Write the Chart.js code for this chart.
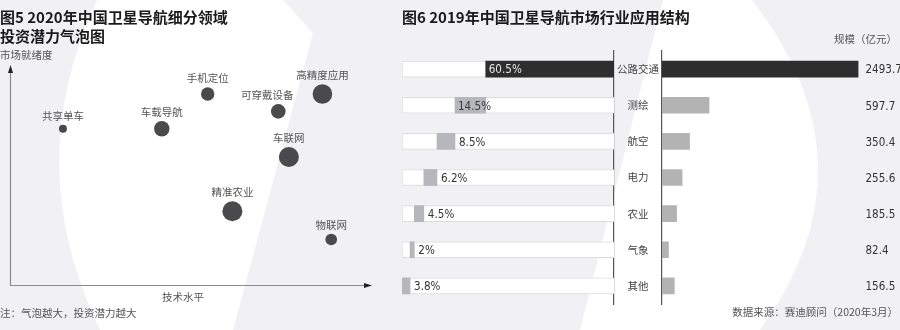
<!DOCTYPE html>
<html lang="zh-CN">
<head>
<meta charset="utf-8">
<title>卫星导航细分领域与行业应用</title>
<script src="https://cdn.jsdelivr.net/npm/chart.js@4.4.1/dist/chart.umd.min.js"></script>
<style>
  body { margin: 0; width: 900px; height: 330px; overflow: hidden; position: relative; background: #f1f1f3; font-family: 'Noto Sans CJK SC', sans-serif; }
  canvas { position: absolute; top: 0; }
  .txt { position: absolute; white-space: nowrap; color: #555; font-size: 10.5px; line-height: 14px; }
  .title { position: absolute; white-space: nowrap; color: #1a1a1a; font-size: 15px; font-weight: bold; line-height: 20px; }
</style>
</head>
<body>
<canvas id="backdrop" width="900" height="330" style="left:0"></canvas>
<canvas id="bubble" width="380" height="330" style="left:0"></canvas>
<canvas id="share" width="220" height="330" style="left:400px"></canvas>
<canvas id="scale" width="286" height="330" style="left:614px"></canvas>

<div class="title" style="left:0;top:7px">图5 2020年中国卫星导航细分领域</div>
<div class="title" style="left:0;top:26px">投资潜力气泡图</div>
<div class="txt" style="left:0;top:48px">市场就绪度</div>
<div class="txt" style="left:162px;top:290px">技术水平</div>
<div class="txt" style="left:0;top:306px">注：气泡越大，投资潜力越大</div>

<div class="title" style="left:402px;top:7px">图6 2019年中国卫星导航市场行业应用结构</div>
<div class="txt" style="right:3px;top:32px">规模（亿元）</div>
<div class="txt" style="right:2px;top:305px">数据来源：赛迪顾问（2020年3月）</div>

<script>
// 图5 气泡图
var fields = ['共享单车', '车载导航', '手机定位', '可穿戴设备', '高精度应用', '车联网', '精准农业', '物联网'];
var techLevel = [1.5, 4.3, 5.6, 7.6, 8.85, 7.9, 6.3, 9.1];
var readiness = [7.2, 7.2, 8.8, 8.0, 8.8, 5.9, 3.4, 2.1];
var potential = [4, 7.7, 6.7, 7.3, 9.8, 10, 10, 5.8];

// 图6 行业应用结构
var sectors = ['公路交通', '测绘', '航空', '电力', '农业', '气象', '其他'];
var sharePct = [60.5, 14.5, 8.5, 6.2, 4.5, 2, 3.8];
var marketSize = [2493.7, 597.7, 350.4, 255.6, 185.5, 82.4, 156.5];

Chart.defaults.font.family = "'Noto Sans CJK SC', sans-serif";

// 数字用窄体：横向压缩绘制
function drawNum(ctx, txt, x, y) {
  ctx.save();
  ctx.font = "13px 'DejaVu Sans'";
  ctx.textBaseline = 'middle';
  ctx.textAlign = 'left';
  ctx.translate(x, y);
  ctx.scale(0.8, 1);
  ctx.fillText(txt, 0, 0);
  ctx.restore();
}

// 白色弧形底纹
function drawBackdrop() {
  var g = document.getElementById('backdrop').getContext('2d');
  g.fillStyle = '#f1f1f3';
  g.fillRect(0, 0, 900, 330);
  g.fillStyle = '#ffffff';
  g.beginPath();
  g.moveTo(97, 0);
  g.lineTo(283, 0);
  g.lineTo(313, 33);
  g.lineTo(233, 330);
  g.lineTo(100, 330);
  g.quadraticCurveTo(20, 165, 97, 0);
  g.fill();
  g.beginPath();
  g.moveTo(663, 0);
  g.lineTo(752, 0);
  g.quadraticCurveTo(880, 165, 760, 330);
  g.lineTo(580, 330);
  g.closePath();
  g.fill();
}
drawBackdrop();

// 坐标轴和箭头
var axesArrows = {
  id: 'axesArrows',
  afterDraw: function(chart) {
    var ctx = chart.ctx, a = chart.chartArea;
    var x0 = a.left + 0.5, y0 = a.bottom + 0.5;
    ctx.save();
    ctx.strokeStyle = '#8c8c8c';
    ctx.lineWidth = 1.2;
    ctx.beginPath();
    ctx.moveTo(x0, a.top);
    ctx.lineTo(x0, y0);
    ctx.lineTo(a.right + 4, y0);
    ctx.stroke();
    ctx.fillStyle = '#222';
    ctx.beginPath();
    ctx.moveTo(x0, a.top - 3);
    ctx.lineTo(x0 - 2.5, a.top + 5);
    ctx.lineTo(x0 + 2.5, a.top + 5);
    ctx.fill();
    ctx.beginPath();
    ctx.moveTo(a.right + 9, y0);
    ctx.lineTo(a.right + 1, y0 - 2.5);
    ctx.lineTo(a.right + 1, y0 + 2.5);
    ctx.fill();
    ctx.restore();
  }
};

// 气泡上方的名称
var bubbleNames = {
  id: 'bubbleNames',
  afterDatasetsDraw: function(chart) {
    var ctx = chart.ctx;
    var shift = { 3: -11 };
    ctx.save();
    ctx.font = "10.5px 'Noto Sans CJK SC'";
    ctx.fillStyle = '#555';
    ctx.textAlign = 'center';
    ctx.textBaseline = 'middle';
    chart.getDatasetMeta(0).data.forEach(function(pt, i) {
      ctx.fillText(fields[i], pt.x + (shift[i] || 0), pt.y - pt.options.radius - 9);
    });
    ctx.restore();
  }
};

new Chart(document.getElementById('bubble'), {
  type: 'bubble',
  data: {
    datasets: [{
      data: fields.map(function(f, i) {
        return { x: techLevel[i], y: readiness[i], r: potential[i] };
      }),
      backgroundColor: '#4a4a4d',
      borderWidth: 0
    }]
  },
  options: {
    responsive: false,
    animation: false,
    layout: { padding: { left: 3, right: 17, top: 68, bottom: 45 } },
    scales: {
      x: { display: false, min: 0, max: 10 },
      y: { display: false, min: 0, max: 10 }
    },
    plugins: { legend: { display: false }, tooltip: { enabled: false } }
  },
  plugins: [axesArrows, bubbleNames]
});

// 占比：逐段累加的浮动条
var cumStart = [];
var run = 0;
sharePct.forEach(function(v) { cumStart.push(run); run += v; });

var shareLabels = {
  id: 'shareLabels',
  afterDatasetsDraw: function(chart) {
    var ctx = chart.ctx;
    chart.getDatasetMeta(0).data.forEach(function(bar, i) {
      var left = Math.min(bar.x, bar.base), right = Math.max(bar.x, bar.base);
      var txt = sharePct[i] + '%';
      if (right - left > 25) {
        ctx.fillStyle = i === 0 ? '#e6e6e6' : '#3a3a3a';
        drawNum(ctx, txt, left + 3, bar.y + 1);
      } else {
        ctx.fillStyle = '#333';
        drawNum(ctx, txt, right + 4, bar.y + 1);
      }
    });
  }
};

new Chart(document.getElementById('share'), {
  type: 'bar',
  data: {
    labels: sectors,
    datasets: [{
      data: sharePct.map(function(v, i) { return [cumStart[i], cumStart[i] + v]; }),
      backgroundColor: sectors.map(function(s, i) { return i === 0 ? '#2e2e2e' : '#b5b7ba'; }),
      barThickness: 16,
      grouped: false,
      order: 1
    }, {
      data: sectors.map(function() { return 100; }),
      backgroundColor: '#ffffff',
      borderColor: '#dcdcde',
      borderWidth: 1,
      barThickness: 16,
      grouped: false,
      order: 2
    }]
  },
  options: {
    indexAxis: 'y',
    responsive: false,
    animation: false,
    layout: { padding: { left: 2, right: 6, top: 51, bottom: 26 } },
    scales: {
      x: { display: false, min: 0, max: 100, reverse: true },
      y: {
        position: 'right',
        grid: { display: false, drawTicks: false },
        ticks: { display: false },
        border: { display: true, color: '#555', width: 1.2 },
        afterFit: function(s) { s.width = 0; }
      }
    },
    plugins: { legend: { display: false }, tooltip: { enabled: false } }
  },
  plugins: [shareLabels]
});

// 规模（亿元）
var sizeLabels = {
  id: 'sizeLabels',
  afterDatasetsDraw: function(chart) {
    var ctx = chart.ctx, a = chart.chartArea;
    ctx.fillStyle = '#333';
    chart.getDatasetMeta(0).data.forEach(function(bar, i) {
      drawNum(ctx, marketSize[i].toFixed(1), a.right + 3, bar.y + 1);
    });
  }
};

new Chart(document.getElementById('scale'), {
  type: 'bar',
  data: {
    labels: sectors,
    datasets: [{
      data: marketSize,
      backgroundColor: sectors.map(function(s, i) { return i === 0 ? '#2e2e2e' : '#b3b3b3'; }),
      barThickness: 16
    }]
  },
  options: {
    indexAxis: 'y',
    responsive: false,
    animation: false,
    layout: { padding: { left: 0, right: 37.5, top: 51, bottom: 26 } },
    scales: {
      x: { display: false, min: 0, max: 2550 },
      y: {
        grid: { display: false, drawTicks: false },
        border: { display: true, color: '#555', width: 1.2 },
        ticks: { crossAlign: 'center', padding: 3, color: '#444', font: { size: 10.5 } },
        afterFit: function(s) { s.width = 48; }
      }
    },
    plugins: { legend: { display: false }, tooltip: { enabled: false } }
  },
  plugins: [sizeLabels]
});
</script>
</body>
</html>
